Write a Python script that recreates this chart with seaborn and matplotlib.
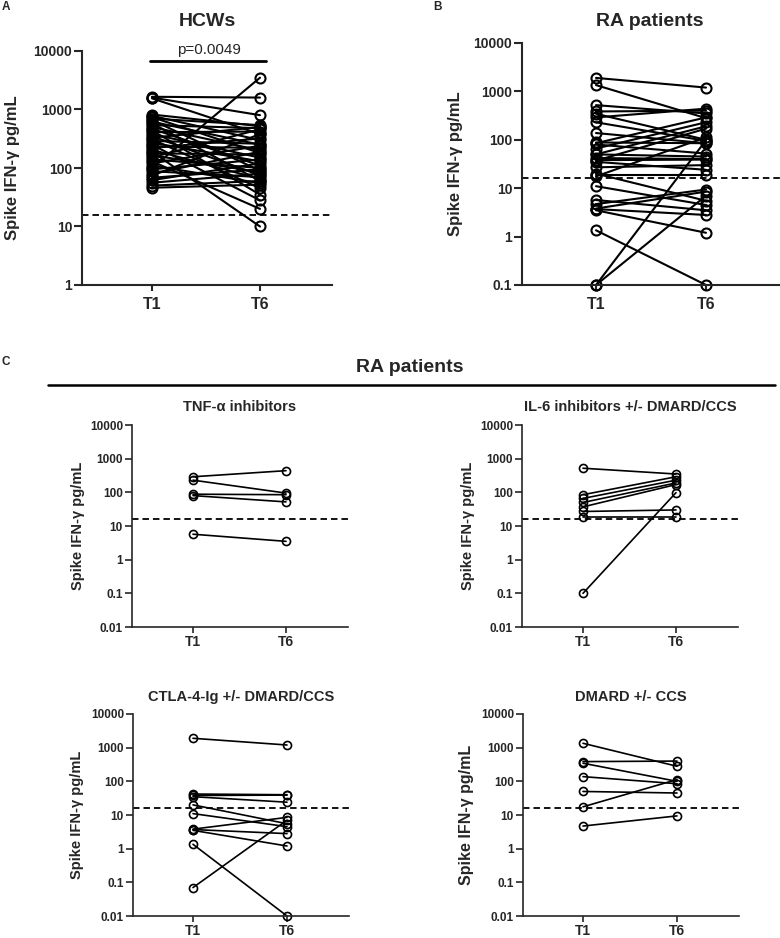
import numpy as np
import pandas as pd
import matplotlib
matplotlib.use("Agg")
import matplotlib.pyplot as plt
from matplotlib.lines import Line2D
from matplotlib.ticker import FixedLocator, FixedFormatter, NullLocator
import seaborn as sns

W, H = 780, 938

timepoints = ["T1", "T6"]
cutoff = 16  # dashed positivity threshold, pg/mL

# HCWs, paired T1 / T6
hcw_t1 = [1650, 1600, 1550, 820, 780, 740, 700, 660, 620, 580, 540, 500,
          470, 440, 410, 380, 350, 330, 310, 290, 270, 250,
          235, 220, 205, 190, 178, 165, 152, 140, 130, 120,
          110, 100, 95, 88, 80, 74, 68, 62, 56, 50, 46]
hcw_t6 = [1600, 800, 380, 520, 300, 180, 540, 90, 250, 60, 480, 200,
          110, 35, 420, 150, 75, 500, 45, 260, 130, 28,
          220, 320, 65, 10, 170, 85, 460, 100, 20, 240,
          55, 3500, 140, 70, 190, 380, 95, 120, 80, 60, 52]

# RA subgroups (panel C)
tnf_t1 = [290, 230, 88, 80, 5.7]
tnf_t6 = [440, 95, 85, 52, 3.5]
il6_t1 = [520, 85, 66, 50, 37, 27, 19, 0.1]
il6_t6 = [350, 290, 230, 190, 170, 30, 19, 98]
ctla_t1 = [1900, 42, 38, 35, 20, 11, 3.8, 3.7, 3.5, 1.35, 0.07]
ctla_t6 = [1200, 40, 39, 24, 5.5, 4.5, 8.5, 2.8, 1.2, 0.01, 7]
dmard_t1 = [1350, 385, 345, 138, 50, 17.5, 4.7]
dmard_t6 = [280, 400, 100, 85, 45, 113, 9.4]

# panel B = all RA patients, shown on an axis that starts at 0.1
ra_floor = 0.1
ra_t1 = tnf_t1 + il6_t1 + ctla_t1 + dmard_t1
ra_t6 = tnf_t6 + il6_t6 + ctla_t6 + dmard_t6

sns.set_theme(style="ticks")
plt.rcParams["font.family"] = ["Liberation Sans", "DejaVu Sans"]
plt.rcParams["font.weight"] = "bold"
plt.rcParams["axes.labelweight"] = "bold"


def paired_frame(t1, t6, floor=None):
    t1 = np.asarray(t1, float)
    t6 = np.asarray(t6, float)
    if floor is not None:
        t1 = np.maximum(t1, floor)
        t6 = np.maximum(t6, floor)
    n = len(t1)
    return pd.DataFrame({"subject": np.tile(np.arange(n), 2),
                         "time": np.repeat([0, 1], n),
                         "value": np.concatenate([t1, t6])})


def px_axes(fig, left, top, right, bottom):
    return fig.add_axes([left / W, 1 - bottom / H, (right - left) / W, (bottom - top) / H])


def paired_panel(fig, box, x1, x6, df, decades, lw, ms, ytick_fs, xtick_fs,
                 spine_lw, tick_len, xpad):
    left, top, right, bottom = box
    ax = px_axes(fig, left, top, right, bottom)
    ax.set_yscale("log")
    sns.lineplot(data=df, x="time", y="value", units="subject", estimator=None,
                 color="black", lw=lw, marker="o", markersize=ms,
                 markerfacecolor="none", markeredgecolor="black",
                 markeredgewidth=lw, clip_on=False, legend=False, ax=ax)
    ax.axhline(cutoff, color="black", lw=1.3, ls=(0, (3.6, 2.2)))
    unit = x6 - x1
    ax.set_xlim((left - x1) / unit, 1 + (right - x6) / unit)
    ax.set_ylim(decades[0], decades[-1])
    ax.yaxis.set_major_locator(FixedLocator(decades))
    ax.yaxis.set_major_formatter(FixedFormatter([f"{d:g}" for d in decades]))
    ax.yaxis.set_minor_locator(NullLocator())
    ax.set_xticks([0, 1])
    ax.set_xticklabels(timepoints)
    ax.set_xlabel("")
    ax.set_ylabel("")
    sns.despine(ax=ax)
    for s in ["left", "bottom"]:
        ax.spines[s].set_linewidth(spine_lw)
    ax.tick_params(axis="y", labelsize=ytick_fs, width=spine_lw, length=tick_len, pad=1.5)
    ax.tick_params(axis="x", labelsize=xtick_fs, width=spine_lw, length=tick_len * 0.8, pad=xpad)
    for lbl in ax.get_xticklabels() + ax.get_yticklabels():
        lbl.set_fontweight("bold")
    return ax


def ftext(fig, x, y, s, **kw):
    fig.text(x / W, 1 - y / H, s, ha="center", va="center", **kw)


fig = plt.figure(figsize=(W / 100, H / 100), dpi=100)
ylab = "Spike IFN-\u03b3 pg/mL"

# A: HCWs
axA = paired_panel(fig, (82, 51, 332, 285), 152, 260, paired_frame(hcw_t1, hcw_t6),
                   [1, 10, 100, 1000, 10000], 1.5, 7.2, 10, 11.5, 1.5, 5.5, 4)
axA.plot([-0.02, 1.06], [0.957, 0.957], color="black", lw=2,
         transform=axA.get_xaxis_transform(), clip_on=False)
axA.text(0.53, 1.004, "p=0.0049", transform=axA.get_xaxis_transform(),
         ha="center", va="center", fontsize=11, fontweight="normal")
ftext(fig, 207, 21, "HCWs", fontsize=14, fontweight="bold")
ftext(fig, 13, 168, ylab, fontsize=12, fontweight="bold", rotation=90)
ftext(fig, 6, 7, "A", fontsize=8.5, fontweight="bold")

# B: RA patients
axB = paired_panel(fig, (522, 43, 780, 285), 596, 706, paired_frame(ra_t1, ra_t6, ra_floor),
                   [0.1, 1, 10, 100, 1000, 10000], 1.5, 7.2, 10, 11.5, 1.5, 5.5, 4)
ftext(fig, 650, 21, "RA patients", fontsize=14, fontweight="bold")
ftext(fig, 455, 164, ylab, fontsize=12, fontweight="bold", rotation=90)
ftext(fig, 437, 7, "B", fontsize=8.5, fontweight="bold")

# C: RA subgroups
ftext(fig, 6, 362, "C", fontsize=8.5, fontweight="bold")
ftext(fig, 410, 367, "RA patients", fontsize=14, fontweight="bold")
fig.add_artist(Line2D([48 / W, 775 / W], [1 - 385 / H] * 2, color="black", lw=1.8))

c_decades = [0.01, 0.1, 1, 10, 100, 1000, 10000]
subgroups = [
    ("TNF-\u03b1 inhibitors", tnf_t1, tnf_t6, (132, 425, 348, 627), 193, 286, 407, 78, 10.5),
    ("IL-6 inhibitors +/- DMARD/CCS", il6_t1, il6_t6, (522, 425, 738, 627), 583, 676, 407, 468, 10.5),
    ("CTLA-4-Ig +/- DMARD/CCS", ctla_t1, ctla_t6, (133, 714, 349, 916), 193, 287, 697, 77, 10.5),
    ("DMARD +/- CCS", dmard_t1, dmard_t6, (523, 714, 739, 916), 583, 677, 697, 467, 11.5),
]
for name, t1, t6, box, x1, x6, ty, ly, lfs in subgroups:
    paired_panel(fig, box, x1, x6, paired_frame(t1, t6), c_decades,
                 1.2, 5.8, 8.5, 10, 1.2, 5, 1.5)
    ftext(fig, (box[0] + box[2]) / 2, ty, name, fontsize=10.5, fontweight="bold")
    ftext(fig, ly, (box[1] + box[3]) / 2, ylab, fontsize=lfs, fontweight="bold", rotation=90)

fig.savefig("out.png", dpi=100)
